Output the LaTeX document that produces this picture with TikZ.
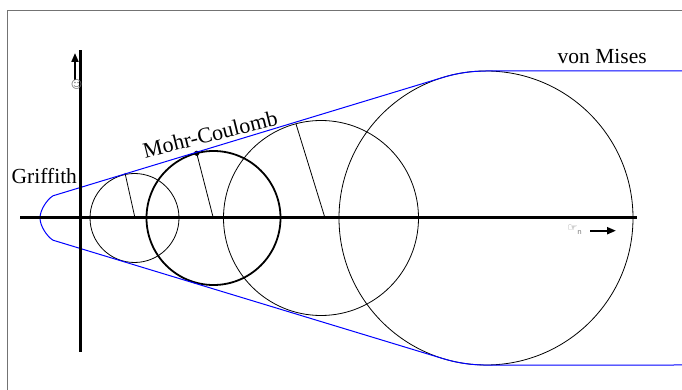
\documentclass[tikz,border=0pt]{standalone}
\usepackage{fontspec}
\setmainfont{Liberation Serif}
\newfontfamily\symfont{DejaVu Sans}
\usetikzlibrary{arrows.meta}
\begin{document}
\begin{tikzpicture}[x=1pt,y=1pt,
  thincirc/.style={draw=black,line width=0.8pt},
  thickcirc/.style={draw=black,line width=1.8pt},
  axisline/.style={line width=3pt,line cap=butt},
  envelope/.style={draw=blue,line width=1pt},
  lbl/.style={inner sep=0pt,anchor=base west,font=\fontsize{21.5}{26}\selectfont},
  smallsym/.style={inner sep=0pt,text=black!55,font=\symfont\fontsize{11}{12}\selectfont},
  smallarrow/.style={line width=2pt,-{Triangle[length=9pt,width=7pt]}}]
\useasboundingbox (0,0) rectangle (682,390);
% frame
\draw[black!55,line width=1pt] (7,0) -- (7,379) -- (682,379);
% coordinates
\coordinate (c1) at (134.5,172);
\coordinate (c2) at (213.5,172);
\coordinate (c3) at (321,172);
\coordinate (c4) at (486,172);
\coordinate (xl) at (20,172);
\coordinate (xr) at (637,172);
\coordinate (yb) at (80,38);
\coordinate (yt) at (80,340);
% circles
\draw[thincirc] (c1) circle[radius=44.5];
\draw[thickcirc] (c2) circle[radius=67];
\draw[thincirc] (c3) circle[radius=97.5];
\draw[thincirc] (c4) circle[radius=147];
% radius lines
\coordinate (r1a) at (135,172);  \coordinate (r1b) at (125,217);
\coordinate (r2a) at (213.3,172);\coordinate (r2b) at (196.7,236.7);
\coordinate (r3a) at (325,172);  \coordinate (r3b) at (296,266);
\draw[line width=0.8pt] (r1a) -- (r1b);
\draw[line width=0.8pt] (r2a) -- (r2b);
\draw[line width=0.8pt] (r3a) -- (r3b);
\fill (r2b) circle[radius=2.6];
% envelope
\draw[envelope] (682,319) -- (486,319) arc[start angle=90,end angle=106.9,radius=147]
  -- (53,194.2) .. controls (47,190.5) and (40,180) .. (40,172)
  .. controls (40,164) and (47,153.5) .. (53,149.8)
  -- (443.3,31.3) arc[start angle=253.1,end angle=270,radius=147] -- (682,25);
% axes
\draw[axisline] (xl) -- (xr);
\draw[axisline] (yb) -- (yt);
% small arrows and symbols
\coordinate (ta) at (75,310); \coordinate (tb) at (75,337);
\draw[smallarrow] (ta) -- (tb);
\node[smallsym] (tau) at (76.5,305.5) {☺};
\coordinate (sa) at (590,159.3); \coordinate (sb) at (616,159.3);
\draw[smallarrow] (sa) -- (sb);
\node[smallsym,anchor=east] (sig) at (582,160.5) {☞\raisebox{-3pt}{\fontsize{7}{8}\selectfont n}};
% labels
\node[lbl] (griffith) at (11.5,206.7) {Griffith};
\node[lbl] (vonmises) at (557.5,326.7) {von Mises};
\node[lbl,rotate=14,font=\fontsize{22}{26}\selectfont] (mc) at (145,231.7) {Mohr-Coulomb};
\end{tikzpicture}
\end{document}
